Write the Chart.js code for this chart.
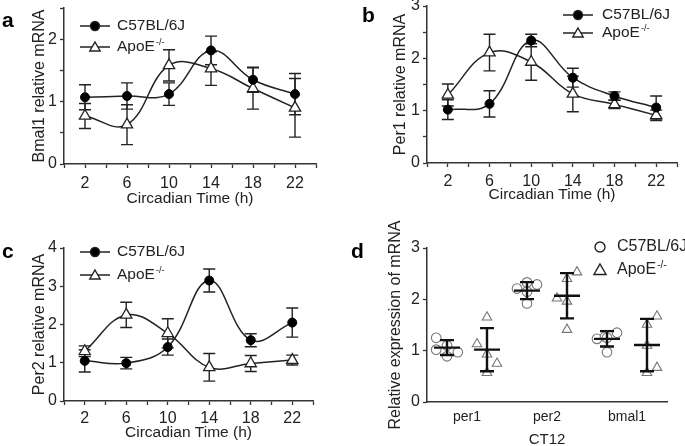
<!DOCTYPE html>
<html>
<head>
<meta charset="utf-8">
<script src="https://cdn.jsdelivr.net/npm/chart.js@4.4.1/dist/chart.umd.min.js"></script>
<style>
html, body { margin: 0; padding: 0; background: #fff; }
#wrap { position: relative; width: 685px; height: 446px; overflow: hidden; }
#wrap canvas { position: absolute; left: -20px; top: -20px; }
</style>
</head>
<body>
<div id="wrap">
<canvas id="pa"></canvas>
<canvas id="pb"></canvas>
<canvas id="pc"></canvas>
<canvas id="pd"></canvas>
</div>
<script>
// circadian time points (h)
const times = [2, 6, 10, 14, 18, 22];

// a: Bmal1
const bmal1C57 = [1.07, 1.09, 1.12, 1.82, 1.35, 1.12];
const bmal1C57Err = [0.20, 0.21, 0.18, 0.23, 0.20, 0.33];
const bmal1ApoE = [0.77, 0.63, 1.58, 1.53, 1.21, 0.90];
const bmal1ApoEErr = [0.20, 0.32, 0.25, 0.27, 0.33, 0.47];

// b: Per1
const per1C57 = [1.02, 1.13, 2.34, 1.63, 1.28, 1.06];
const per1C57Err = [0.19, 0.25, 0.12, 0.18, 0.08, 0.22];
const per1ApoE = [1.30, 2.11, 1.93, 1.32, 1.12, 0.91];
const per1ApoEErr = [0.21, 0.35, 0.35, 0.34, 0.08, 0.10];

// c: Per2
const per2C57 = [1.05, 0.99, 1.41, 3.15, 1.59, 2.05];
const per2C57Err = [0.29, 0.15, 0.21, 0.30, 0.17, 0.38];
const per2ApoE = [1.30, 2.25, 1.77, 0.88, 0.98, 1.07];
const per2ApoEErr = [0.14, 0.33, 0.38, 0.36, 0.21, 0.13];

// d: CT12 individual values
const genes = ['per1', 'per2', 'bmal1'];
const genePos = [1.5, 3.5, 5.5];
const c57Pos = [1, 3, 5];
const apoePos = [2, 4, 6];
const c57Values = [[1.25, 1.02, 0.89, 0.97, 1.10], [2.21, 2.33, 2.29, 1.92, 2.15], [1.23, 1.27, 1.35, 0.97, 1.25]];
const c57Jitter = [[-0.27, -0.27, 0, 0.27, 0], [-0.25, 0, 0.25, 0, 0], [-0.25, -0.05, 0.25, 0, 0]];
const c57Mean = [1.06, 2.17, 1.23];
const c57Sd = [0.145, 0.165, 0.15];
const apoeValues = [[1.13, 1.65, 0.93, 0.75, 0.57], [2.02, 1.96, 2.40, 2.53, 1.41], [1.51, 1.67, 1.10, 0.67, 0.57]];
const apoeJitter = [[-0.25, 0, 0, 0.25, 0], [-0.25, 0, 0, 0.25, 0], [0, 0.25, 0, 0.25, 0]];
const apoeMean = [1.02, 2.07, 1.11];
const apoeSd = [0.42, 0.44, 0.51];

const FONT = '"Liberation Sans", Arial, sans-serif';
const OFF = 20;
const INK = '#222';
Chart.defaults.font.family = FONT;
Chart.defaults.color = INK;

function markerPath(ctx, style, x, y, r) {
  ctx.beginPath();
  if (style === 'circle') {
    ctx.arc(x, y, r, 0, Math.PI * 2);
  } else {
    ctx.moveTo(x, y - r);
    ctx.lineTo(x + r * 0.866, y + r / 2);
    ctx.lineTo(x - r * 0.866, y + r / 2);
    ctx.closePath();
  }
}

function drawApoE(ctx, x, y, size) {
  ctx.font = size + 'px ' + FONT;
  ctx.textBaseline = 'middle';
  ctx.fillText('ApoE', x, y);
  const w = ctx.measureText('ApoE').width;
  ctx.font = Math.round(size * 0.6) + 'px ' + FONT;
  ctx.fillText('-/-', x + w + 1, y - size * 0.32);
}

// panel letter + legend
function makeDeco(o) {
  return {
    id: 'deco',
    afterDraw(chart) {
      const ctx = chart.ctx;
      ctx.save();
      ctx.translate(OFF, OFF);
      ctx.fillStyle = '#000';
      ctx.font = 'bold 21px ' + FONT;
      ctx.textBaseline = 'alphabetic';
      ctx.fillText(o.letter, o.lx, o.ly);
      const items = [
        {style: 'circle', filled: o.line},
        {style: 'triangle', filled: false}
      ];
      items.forEach((it, i) => {
        const y = o.y + i * o.dy;
        ctx.strokeStyle = INK;
        if (o.line) {
          ctx.lineWidth = 1.5;
          ctx.beginPath();
          ctx.moveTo(o.x0, y);
          ctx.lineTo(o.x1, y);
          ctx.stroke();
        }
        const r = it.style === 'circle' ? (o.line ? 4.5 : 5) : (o.line ? 6 : 7);
        markerPath(ctx, it.style, o.mx, y + (it.style === 'circle' ? 0 : 1), r);
        ctx.fillStyle = it.filled ? '#000' : '#fff';
        ctx.fill();
        ctx.lineWidth = 1.4;
        ctx.stroke();
        ctx.fillStyle = INK;
        if (i === 0) {
          ctx.font = o.fs + 'px ' + FONT;
          ctx.textBaseline = 'middle';
          ctx.fillText('C57BL/6J', o.tx, y);
        } else {
          drawApoE(ctx, o.tx, y, o.fs);
        }
      });
      ctx.restore();
    }
  };
}

const errorBars = {
  id: 'errorBars',
  beforeDatasetsDraw(chart) {
    const ctx = chart.ctx;
    const ys = chart.scales.y;
    chart.data.datasets.forEach((ds, i) => {
      if (!ds.err) return;
      chart.getDatasetMeta(i).data.forEach((pt, j) => {
        const v = ds.data[j].y;
        const top = ys.getPixelForValue(v + ds.err[j]);
        const bot = ys.getPixelForValue(v - ds.err[j]);
        ctx.save();
        ctx.strokeStyle = INK;
        ctx.lineWidth = 1.4;
        ctx.beginPath();
        ctx.moveTo(pt.x, top); ctx.lineTo(pt.x, bot);
        ctx.moveTo(pt.x - 6, top); ctx.lineTo(pt.x + 6, top);
        ctx.moveTo(pt.x - 6, bot); ctx.lineTo(pt.x + 6, bot);
        ctx.stroke();
        ctx.restore();
      });
    });
  }
};

function setupCanvas(id) {
  const c = document.getElementById(id);
  c.width = 725; c.height = 486;
  c.style.width = '725px'; c.style.height = '486px';
  return c;
}

function layoutFor(area, yW, xH) {
  return {
    padding: {
      left: area.l + OFF - yW,
      top: area.t + OFF,
      right: 705 - area.r,
      bottom: 466 - area.b - xH
    }
  };
}

function lineChart(id, area, yMax, yTitle, s1, e1, s2, e2, p, deco) {
  const YW = 44, XH = 45;
  return new Chart(setupCanvas(id), {
    type: 'line',
    data: {
      datasets: [
        {
          data: times.map((t, i) => ({x: t, y: s1[i]})),
          err: e1,
          borderColor: INK, borderWidth: 1.5, tension: 0.4,
          pointStyle: 'circle', pointRadius: 4.5,
          pointBackgroundColor: '#000', pointBorderColor: '#000', pointBorderWidth: 1
        },
        {
          data: times.map((t, i) => ({x: t, y: s2[i]})),
          err: e2,
          borderColor: INK, borderWidth: 1.5, tension: 0.4,
          pointStyle: 'triangle', pointRadius: 6.5,
          pointBackgroundColor: '#fff', pointBorderColor: INK, pointBorderWidth: 1.3
        }
      ]
    },
    options: {
      responsive: false, animation: false, devicePixelRatio: 1,
      layout: layoutFor(area, YW, XH),
      plugins: {legend: {display: false}, tooltip: {enabled: false}},
      scales: {
        x: {
          type: 'linear', min: 0, max: 24,
          afterFit: s => { s.height = XH; },
          ticks: {stepSize: 2, autoSkip: false, maxRotation: 0, padding: p.xtp,
            font: {size: 16}, callback: v => (v % 4 === 2 ? v : '')},
          grid: {drawOnChartArea: false, drawTicks: true, tickLength: 4, tickColor: '#333', tickWidth: 1.3},
          border: {color: '#333', width: 1.5},
          title: {display: true, text: 'Circadian Time (h)', font: {size: 15.5}, padding: {top: 0, bottom: p.xtb}}
        },
        y: {
          min: 0, max: yMax,
          afterFit: s => { s.width = YW; },
          ticks: {stepSize: 0.5, padding: 3, font: {size: 16},
            callback: v => (Number.isInteger(v) ? v : '')},
          grid: {drawOnChartArea: false, drawTicks: true, tickLength: 4, tickColor: '#333', tickWidth: 1.3},
          border: {color: '#333', width: 1.5},
          title: {display: true, text: yTitle, font: {size: 16}, padding: {top: p.ytt, bottom: 0}}
        }
      }
    },
    plugins: [errorBars, makeDeco(deco)]
  });
}

lineChart('pa', {l: 64, t: 8, r: 316, b: 164}, 2.5, 'Bmal1 relative mRNA',
  bmal1C57, bmal1C57Err, bmal1ApoE, bmal1ApoEErr,
  {xtp: 6, xtb: 1, ytt: 10},
  {letter: 'a', lx: 2, ly: 27, line: true, x0: 80, x1: 110, mx: 95, tx: 117, y: 26, dy: 21, fs: 15.5});

lineChart('pb', {l: 427, t: 6, r: 677, b: 163}, 3, 'Per1 relative mRNA',
  per1C57, per1C57Err, per1ApoE, per1ApoEErr,
  {xtp: 4.5, xtb: 3.6, ytt: 8},
  {letter: 'b', lx: 362, ly: 22, line: true, x0: 563, x1: 593, mx: 578, tx: 602, y: 15, dy: 18, fs: 15.5});

lineChart('pc', {l: 64, t: 248, r: 313, b: 401}, 4, 'Per2 relative mRNA',
  per2C57, per2C57Err, per2ApoE, per2ApoEErr,
  {xtp: 3.5, xtb: 4.1, ytt: 10},
  {letter: 'c', lx: 2, ly: 258, line: true, x0: 80, x1: 110, mx: 95, tx: 117, y: 252, dy: 23, fs: 15.5});

// d: mean +/- SD drawn over the individual points
function makeMeanSd(groups) {
  return {
    id: 'meanSd',
    afterDatasetsDraw(chart) {
      const ctx = chart.ctx;
      const xs = chart.scales.x, ys = chart.scales.y;
      ctx.save();
      ctx.strokeStyle = '#111';
      ctx.lineWidth = 2.4;
      groups.forEach(g => {
        g.pos.forEach((p, i) => {
          const x = xs.getPixelForValue(p);
          const m = ys.getPixelForValue(g.mean[i]);
          const top = ys.getPixelForValue(g.mean[i] + g.sd[i]);
          const bot = ys.getPixelForValue(g.mean[i] - g.sd[i]);
          ctx.beginPath();
          ctx.moveTo(x - 13, m); ctx.lineTo(x + 13, m);
          ctx.moveTo(x, top); ctx.lineTo(x, bot);
          ctx.moveTo(x - 7, top); ctx.lineTo(x + 7, top);
          ctx.moveTo(x - 7, bot); ctx.lineTo(x + 7, bot);
          ctx.stroke();
        });
      });
      ctx.restore();
    }
  };
}

function points(pos, values, jitter) {
  const out = [];
  values.forEach((vals, g) => vals.forEach((v, k) => out.push({x: pos[g] + jitter[g][k], y: v})));
  return out;
}

(function () {
  const area = {l: 427, t: 248, r: 667, b: 402};
  const YW = 44, XH = 48;
  new Chart(setupCanvas('pd'), {
    type: 'scatter',
    data: {
      datasets: [
        {
          data: points(c57Pos, c57Values, c57Jitter),
          pointStyle: 'circle', pointRadius: 4.8,
          pointBackgroundColor: '#fff', pointBorderColor: '#777', pointBorderWidth: 1.1
        },
        {
          data: points(apoePos, apoeValues, apoeJitter),
          pointStyle: 'triangle', pointRadius: 5.5,
          pointBackgroundColor: '#fff', pointBorderColor: '#777', pointBorderWidth: 1.1
        }
      ]
    },
    options: {
      responsive: false, animation: false, devicePixelRatio: 1,
      layout: layoutFor(area, YW, XH),
      plugins: {legend: {display: false}, tooltip: {enabled: false}},
      scales: {
        x: {
          type: 'linear', min: 0.5, max: 6.5,
          afterFit: s => { s.height = XH; },
          afterBuildTicks: s => { s.ticks = genePos.map(v => ({value: v})); },
          ticks: {autoSkip: false, maxRotation: 0, padding: 6.5, font: {size: 14},
            callback: (v, i) => genes[i]},
          grid: {drawOnChartArea: false, drawTicks: false},
          border: {color: '#333', width: 1.5},
          title: {display: true, text: 'CT12', font: {size: 15}, padding: {top: 0, bottom: 1.5}}
        },
        y: {
          min: 0, max: 3,
          afterFit: s => { s.width = YW; },
          ticks: {stepSize: 1, padding: 3, font: {size: 16}},
          grid: {drawOnChartArea: false, drawTicks: true, tickLength: 4, tickColor: '#333', tickWidth: 1.3},
          border: {color: '#333', width: 1.5},
          title: {display: true, text: 'Relative expression of mRNA', font: {size: 16}, padding: {top: 2.5, bottom: 0}}
        }
      }
    },
    plugins: [
      makeMeanSd([{pos: c57Pos, mean: c57Mean, sd: c57Sd}, {pos: apoePos, mean: apoeMean, sd: apoeSd}]),
      makeDeco({letter: 'd', lx: 351, ly: 258, line: false, mx: 600, tx: 617, y: 247, dy: 23, fs: 16})
    ]
  });
})();
</script>
</body>
</html>
